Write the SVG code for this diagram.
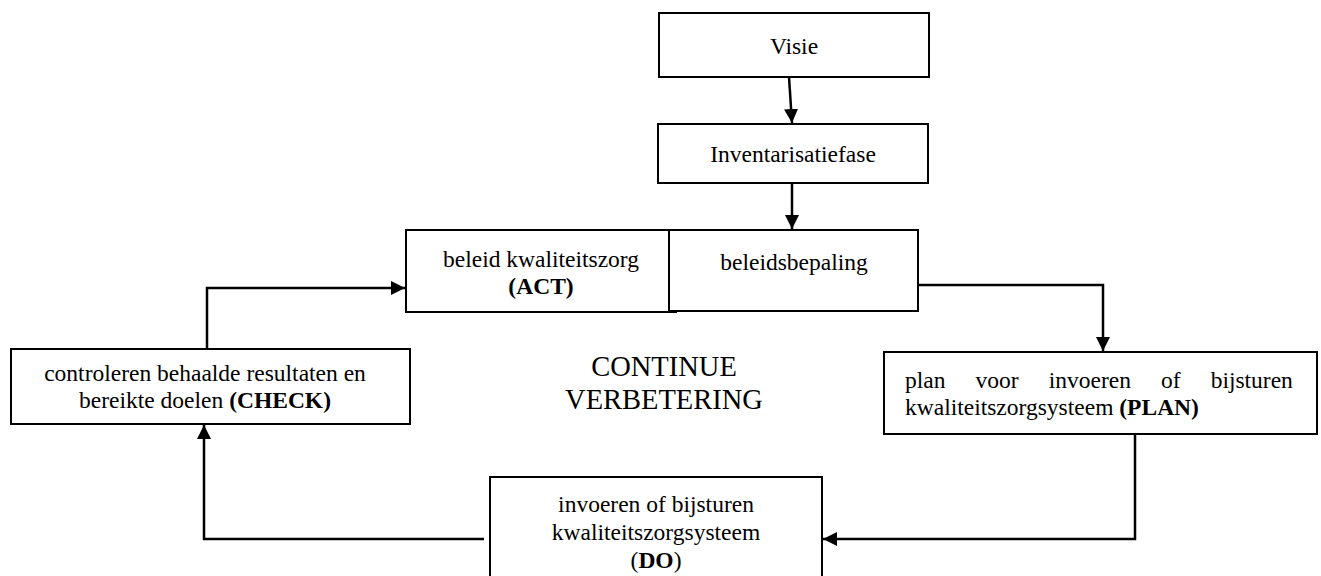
<svg xmlns="http://www.w3.org/2000/svg" width="1321" height="576" viewBox="0 0 1321 576">
<style>
.box{fill:#fff;stroke:#000;stroke-width:2}
.t{font-family:"Liberation Serif","Times New Roman",serif;font-size:23.5px;fill:#000}
.c{text-anchor:middle}
.b{font-weight:bold}
.big{font-family:"Liberation Serif","Times New Roman",serif;font-size:28.5px;fill:#000;text-anchor:middle}
.con{fill:none;stroke:#000;stroke-width:2.5}
</style>
<defs>
<marker id="ah" markerUnits="userSpaceOnUse" markerWidth="16" markerHeight="14" refX="14" refY="7" orient="auto">
<path d="M0,0 L14,7 L0,14 Z" fill="#000"/>
</marker>
</defs>
<rect width="1321" height="576" fill="#fff"/>
<g id="connectors">
<path class="con" d="M789,77 L792,123" marker-end="url(#ah)"/>
<path class="con" d="M792,183 L792,229" marker-end="url(#ah)"/>
<path class="con" d="M918,285 L1103,285 L1103,351" marker-end="url(#ah)"/>
<path class="con" d="M1135,434 L1135,539 L823,539" marker-end="url(#ah)"/>
<path class="con" d="M484,539 L204,539 L204,425" marker-end="url(#ah)"/>
<path class="con" d="M207,349 L207,288 L405,288" marker-end="url(#ah)"/>
</g>
<g id="visie">
<rect class="box" x="659" y="13" width="270" height="64"/>
<text class="t c" x="794" y="54">Visie</text>
</g>
<g id="inventarisatie">
<rect class="box" x="658" y="124" width="270" height="59"/>
<text class="t c" x="793" y="162">Inventarisatiefase</text>
</g>
<g id="act">
<rect class="box" x="406" y="230" width="270" height="82"/>
<text class="t c" x="541" y="267">beleid kwaliteitszorg</text>
<text class="t c b" x="541" y="294">(ACT)</text>
</g>
<g id="beleidsbepaling">
<rect class="box" x="669" y="230" width="249" height="81"/>
<text class="t c" x="794" y="270">beleidsbepaling</text>
</g>
<g id="check">
<rect class="box" x="11" y="349" width="399" height="75"/>
<text class="t c" x="205" y="381">controleren behaalde resultaten en</text>
<text class="t c" x="205" y="408">bereikte doelen <tspan class="b">(CHECK)</tspan></text>
</g>
<g id="center-label">
<text class="big" x="664" y="376">CONTINUE</text>
<text class="big" x="664" y="409">VERBETERING</text>
</g>
<g id="plan">
<rect class="box" x="884" y="352" width="433" height="82"/>
<text class="t" x="905" y="388" word-spacing="24.2">plan voor invoeren of bijsturen</text>
<text class="t" x="905" y="415">kwaliteitszorgsysteem <tspan class="b">(PLAN)</tspan></text>
</g>
<g id="do">
<rect class="box" x="490" y="477" width="332" height="110"/>
<text class="t c" x="656" y="512">invoeren of bijsturen</text>
<text class="t c" x="656" y="540">kwaliteitszorgsysteem</text>
<text class="t c" x="656" y="568">(<tspan class="b">DO</tspan>)</text>
</g>
</svg>
